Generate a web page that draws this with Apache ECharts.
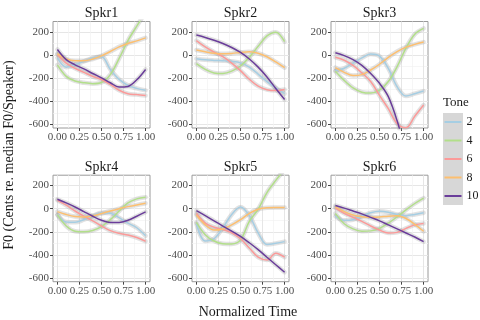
<!DOCTYPE html>
<html><head><meta charset="utf-8">
<script src="https://cdn.jsdelivr.net/npm/echarts@6/dist/echarts.min.js"></script>
<style>html,body{margin:0;padding:0;background:#fff}#c{width:480px;height:320px}</style>
</head><body><div id="c"></div>
<script>
const speakers = ['Spkr1','Spkr2','Spkr3','Spkr4','Spkr5','Spkr6'];
const tones = ['2','4','6','8','10'];
const toneColors = ['#a6cee3','#b2df8a','#fb9a99','#fdbf6f','#6a3d9a'];
const time = [0,0.1,0.2,0.3,0.4,0.5,0.6,0.7,0.8,0.9,1.0];
const xTicks = [0,0.25,0.5,0.75,1];
const xMinor = [0.125,0.375,0.625,0.875];
const yTicks = [-600,-400,-200,0,200];
const yMinor = [-500,-300,-100,100];

const spkr1_t2  = [-25,-105,-85,-55,-25,-15,-125,-211,-263,-289,-306];
const spkr1_t4  = [-85,-185,-225,-240,-248,-238,-170,-30,125,250,370];
const spkr1_t6  = [5,-70,-115,-150,-185,-212,-255,-305,-335,-343,-350];
const spkr1_t8  = [12,-35,-50,-50,-35,-8,30,70,100,122,148];
const spkr1_t10 = [48,-40,-85,-120,-160,-198,-240,-278,-272,-215,-125];

const spkr2_t2  = [-32,-42,-47,-50,-55,-68,-105,-165,-230,-285,-335];
const spkr2_t4  = [-75,-125,-155,-160,-140,-95,-20,75,165,198,115];
const spkr2_t6  = [125,70,25,-15,-70,-135,-210,-270,-300,-308,-298];
const spkr2_t8  = [43,28,15,10,14,22,28,15,-15,-60,-110];
const spkr2_t10 = [173,152,128,100,65,22,-35,-105,-190,-290,-385];

const spkr3_t2  = [-135,-115,-70,-25,8,-10,-115,-275,-355,-335,-312];
const spkr3_t4  = [-140,-220,-285,-322,-330,-305,-230,-100,60,180,230];
const spkr3_t6  = [-20,-45,-90,-155,-230,-350,-465,-595,-630,-530,-433];
const spkr3_t8  = [-110,-150,-178,-170,-130,-80,-20,30,68,92,112];
const spkr3_t10 = [20,-5,-40,-90,-160,-245,-360,-570,-850,null,null];

const spkr4_t2  = [-52,-115,-118,-95,-62,-35,-40,-78,-125,-165,-235];
const spkr4_t4  = [-52,-150,-195,-200,-188,-155,-95,-20,50,85,100];
const spkr4_t6  = [72,30,-20,-65,-105,-150,-190,-213,-228,-250,-282];
const spkr4_t8  = [-25,-50,-68,-72,-62,-42,-20,0,18,32,47];
const spkr4_t10 = [82,50,15,-25,-65,-100,-120,-120,-100,-65,-28];

const spkr5_t2  = [-130,-280,-260,-165,-50,15,-60,-210,-310,-300,-285];
const spkr5_t4  = [-118,-225,-280,-303,-305,-270,-110,-5,140,245,340];
const spkr5_t6  = [-40,-125,-160,-180,-210,-260,-340,-420,-445,-385,-420];
const spkr5_t8  = [-55,-140,-185,-175,-140,-95,-40,-5,8,10,10];
const spkr5_t10 = [-17,-60,-105,-150,-195,-240,-295,-355,-420,-485,-550];

const spkr6_t2  = [-65,-100,-95,-65,-35,-22,-30,-50,-60,-50,-35];
const spkr6_t4  = [-40,-130,-175,-195,-192,-170,-125,-70,-10,45,92];
const spkr6_t6  = [5,-40,-75,-110,-150,-185,-210,-205,-170,-140,-128];
const spkr6_t8  = [15,-25,-55,-70,-75,-72,-65,-62,-85,-135,-195];
const spkr6_t10 = [28,5,-20,-45,-75,-105,-140,-175,-210,-245,-285];

const panelData = [
  [spkr1_t2, spkr1_t4, spkr1_t6, spkr1_t8, spkr1_t10],
  [spkr2_t2, spkr2_t4, spkr2_t6, spkr2_t8, spkr2_t10],
  [spkr3_t2, spkr3_t4, spkr3_t6, spkr3_t8, spkr3_t10],
  [spkr4_t2, spkr4_t4, spkr4_t6, spkr4_t8, spkr4_t10],
  [spkr5_t2, spkr5_t4, spkr5_t6, spkr5_t8, spkr5_t10],
  [spkr6_t2, spkr6_t4, spkr6_t6, spkr6_t8, spkr6_t10]
];

const FONT = '"Liberation Serif", "Times New Roman", serif';
const colLeft = [53, 192, 331];
const rowTop = [21.5, 175.2];
const panelW = 97, panelH = 106.5;
const Y_MIN = -632, Y_MAX = 290;

const grid = [], xAxis = [], yAxis = [], series = [], graphic = [];
speakers.forEach((name, i) => {
  const left = colLeft[i % 3], top = rowTop[Math.floor(i / 3)];
  grid.push({left, top, width: panelW, height: panelH, show: true,
    borderColor: '#9a9a9a', borderWidth: 1, backgroundColor: '#fff', containLabel: false});
  xAxis.push({type: 'value', gridIndex: i, min: -0.05, max: 1.05, position: 'bottom',
    axisLine: {show: false, onZero: false},
    axisTick: {show: true, length: 3, lineStyle: {color: '#444'}, customValues: xTicks},
    axisLabel: {customValues: xTicks, formatter: v => v.toFixed(2), fontSize: 11,
      fontFamily: FONT, color: '#4d4d4d', margin: 4},
    splitLine: {show: true, lineStyle: {color: '#e6e6e6', width: 1}}});
  xAxis.push({type: 'value', gridIndex: i, min: -0.05, max: 1.05, position: 'top',
    axisLine: {show: false, onZero: false},
    axisTick: {show: false, customValues: xMinor},
    axisLabel: {show: false, customValues: xMinor},
    splitLine: {show: true, lineStyle: {color: '#f2f2f2', width: 0.7}}});
  yAxis.push({type: 'value', gridIndex: i, min: Y_MIN, max: Y_MAX, position: 'left',
    axisLine: {show: false, onZero: false},
    axisTick: {show: true, length: 3, lineStyle: {color: '#444'}, customValues: yTicks},
    axisLabel: {customValues: yTicks, fontSize: 11, fontFamily: FONT, color: '#4d4d4d', margin: 4},
    splitLine: {show: true, lineStyle: {color: '#e6e6e6', width: 1}}});
  yAxis.push({type: 'value', gridIndex: i, min: Y_MIN, max: Y_MAX, position: 'right',
    axisLine: {show: false, onZero: false},
    axisTick: {show: false, customValues: yMinor},
    axisLabel: {show: false, customValues: yMinor},
    splitLine: {show: true, lineStyle: {color: '#f2f2f2', width: 0.7}}});
  panelData[i].forEach((vals, k) => {
    const data = time.map((t, j) => [t, vals[j]]).filter(d => d[1] !== null);
    series.push({type: 'line', name: '_ribbon' + tones[k], xAxisIndex: 2 * i, yAxisIndex: 2 * i,
      data, smooth: 0.35, showSymbol: false, symbol: 'none', silent: true, z: 1,
      lineStyle: {color: 'rgba(150,150,150,0.28)', width: 4.5, cap: 'round'}});
  });
  panelData[i].forEach((vals, k) => {
    const data = time.map((t, j) => [t, vals[j]]).filter(d => d[1] !== null);
    series.push({type: 'line', name: tones[k], xAxisIndex: 2 * i, yAxisIndex: 2 * i,
      data, smooth: 0.35, showSymbol: false, symbol: 'none', z: 2,
      color: toneColors[k], itemStyle: {color: toneColors[k]},
      lineStyle: {color: toneColors[k], width: 1.5}});
  });
  graphic.push({type: 'text', x: left + panelW / 2, y: top - 8,
    style: {text: name, font: '14px ' + FONT, fill: '#1a1a1a', align: 'center', verticalAlign: 'middle'}});
});

graphic.push({type: 'rect', shape: {x: 443, y: 113, width: 20, height: 92}, style: {fill: '#d7d7d7'}, z: -1});
graphic.push({type: 'text', x: 443, y: 103,
  style: {text: 'Tone', font: '13px ' + FONT, fill: '#1a1a1a', align: 'left', verticalAlign: 'middle'}});
graphic.push({type: 'text', x: 9, y: 155, rotation: Math.PI / 2,
  style: {text: 'F0 (Cents re. median F0/Speaker)', font: '14px ' + FONT, fill: '#1a1a1a', align: 'center', verticalAlign: 'middle'}});
graphic.push({type: 'text', x: 248, y: 312,
  style: {text: 'Normalized Time', font: '14px ' + FONT, fill: '#1a1a1a', align: 'center', verticalAlign: 'middle'}});

const chart = echarts.init(document.getElementById('c'), null, {renderer: 'canvas'});
chart.setOption({
  animation: false,
  backgroundColor: '#fff',
  grid, xAxis, yAxis, series, graphic,
  legend: {data: tones, orient: 'vertical', left: 444.5, top: 112.75, itemGap: 0, padding: 0,
    itemWidth: 17, itemHeight: 2, icon: 'rect', selectedMode: false,
    textStyle: {fontSize: 12, fontFamily: FONT, color: '#1a1a1a', lineHeight: 18.5}}
});
</script></body></html>
